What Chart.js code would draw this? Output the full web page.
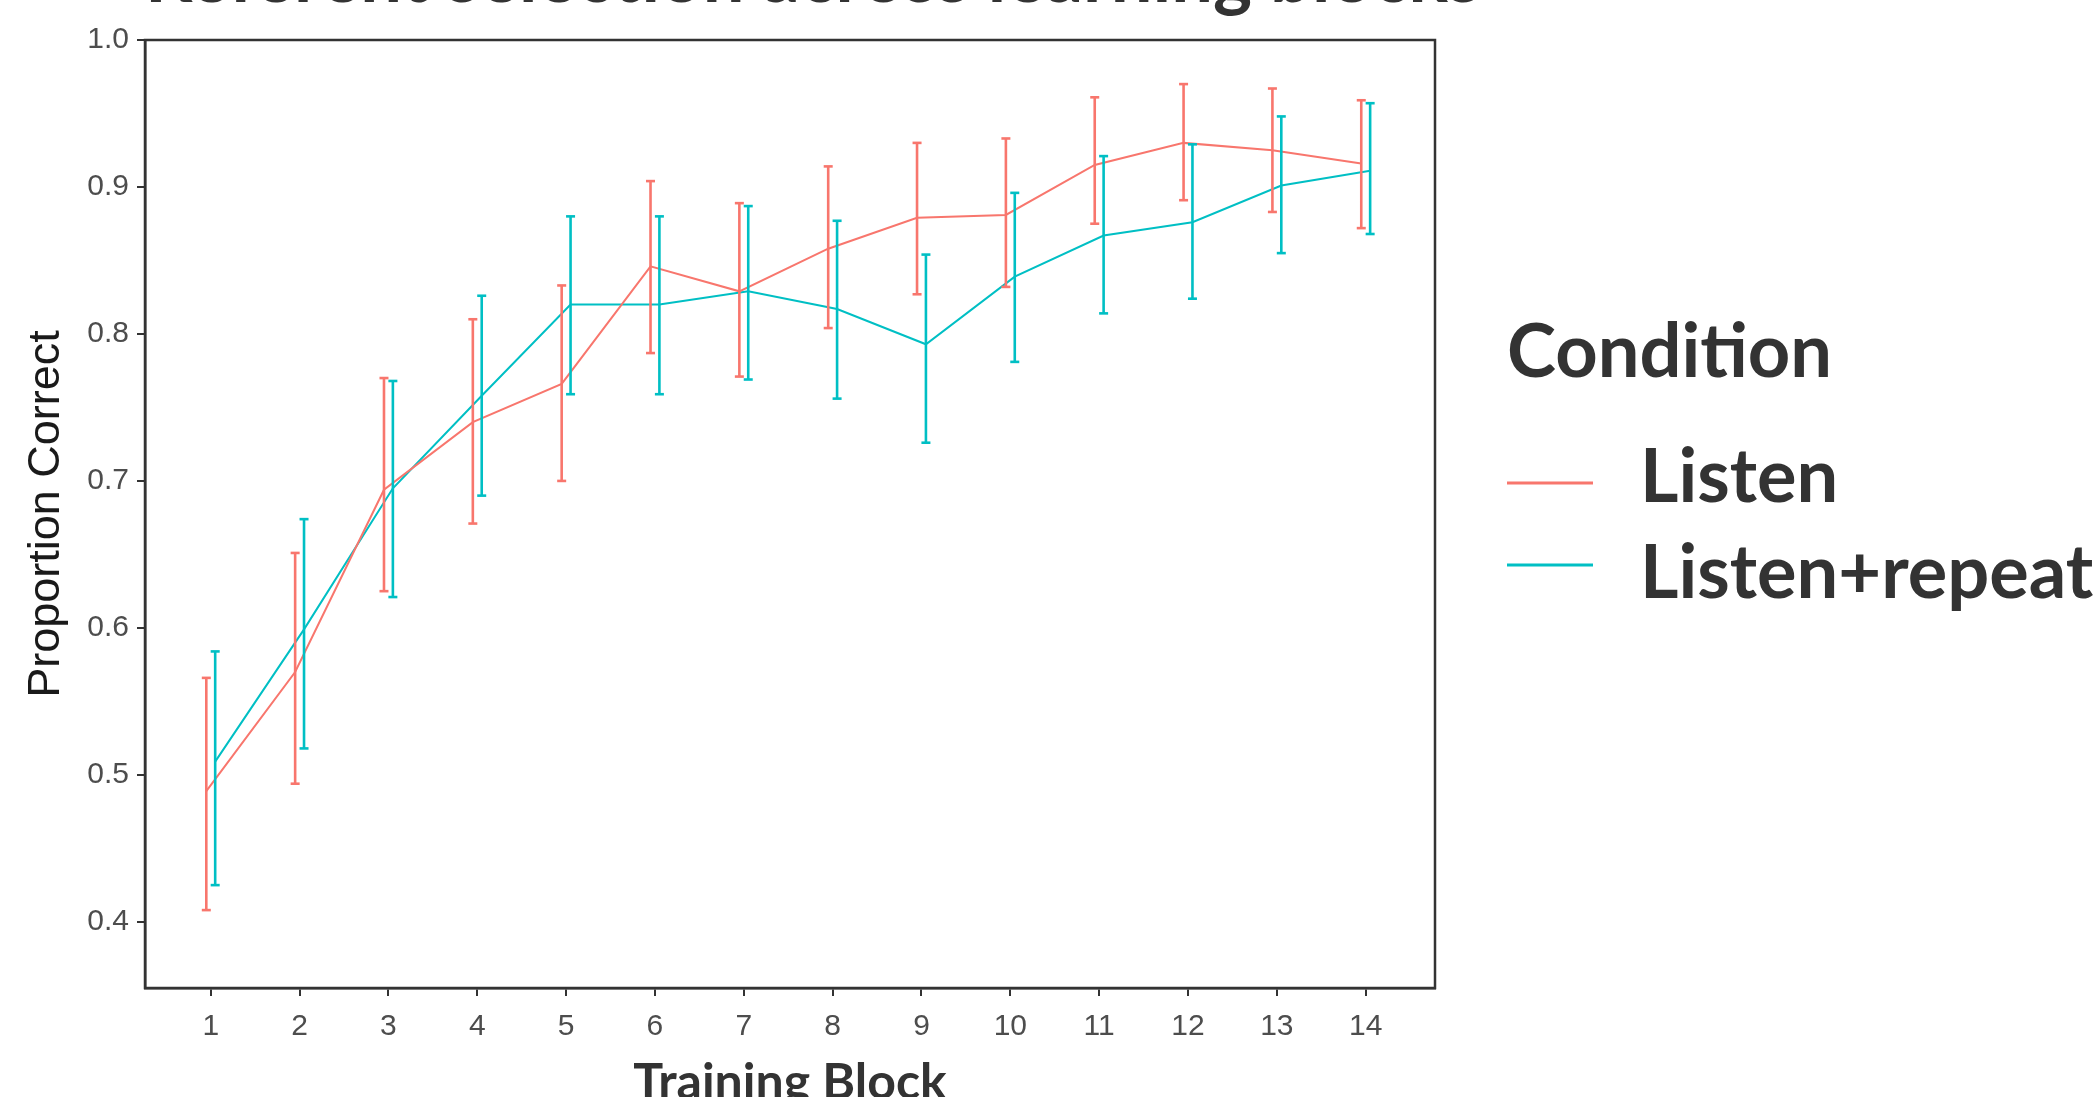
<!DOCTYPE html>
<html>
<head>
<meta charset="utf-8">
<script src="https://cdn.jsdelivr.net/npm/chart.js@4"></script>
<style>
  html, body { margin: 0; padding: 0; background: #fff; overflow: hidden; }
  #wrap { width: 2099px; height: 1097px; overflow: hidden; }
</style>
</head>
<body>
<div id="wrap"><canvas id="chart" width="2099" height="1127"></canvas></div>
<script>
'use strict';
// Data: mean proportion correct and error bar ends per training block
const blocks = [1, 2, 3, 4, 5, 6, 7, 8, 9, 10, 11, 12, 13, 14];
const conditions = ['Listen', 'Listen+repeat'];
const listenMean = [0.489, 0.570, 0.694, 0.740, 0.766, 0.846, 0.829, 0.858, 0.879, 0.881, 0.915, 0.930, 0.925, 0.916];
const listenLo   = [0.408, 0.494, 0.625, 0.671, 0.700, 0.787, 0.771, 0.804, 0.827, 0.832, 0.875, 0.891, 0.883, 0.872];
const listenHi   = [0.566, 0.651, 0.770, 0.810, 0.833, 0.904, 0.889, 0.914, 0.930, 0.933, 0.961, 0.970, 0.967, 0.959];
const repeatMean = [0.509, 0.599, 0.695, 0.758, 0.820, 0.820, 0.829, 0.817, 0.793, 0.839, 0.867, 0.876, 0.901, 0.911];
const repeatLo   = [0.425, 0.518, 0.621, 0.690, 0.759, 0.759, 0.769, 0.756, 0.726, 0.781, 0.814, 0.824, 0.855, 0.868];
const repeatHi   = [0.584, 0.674, 0.768, 0.826, 0.880, 0.880, 0.887, 0.877, 0.854, 0.896, 0.921, 0.929, 0.948, 0.957];
const yTicks = [0.4, 0.5, 0.6, 0.7, 0.8, 0.9, 1.0];
const titleText = 'Referent selection across learning blocks';

const red = '#F8766D';
const teal = '#00BFC4';
const ink = '#333333';
const dodge = 0.05;

// line through the means, shifted sideways a little like position_dodge
function meanPoints(means, dx) {
  return blocks.map((b, i) => ({x: b + dx, y: means[i]}));
}
// each error bar is a two point segment, a null point breaks the line between bars
function errPoints(lo, hi, dx) {
  let pts = [];
  blocks.forEach((b, i) => {
    pts.push({x: b + dx, y: lo[i]}, {x: b + dx, y: hi[i]}, {x: b + dx, y: null});
  });
  return pts;
}

function errDataset(label, lo, hi, dx, color) {
  return {
    label: label + ' error', data: errPoints(lo, hi, dx),
    borderColor: color, borderWidth: 2.6, spanGaps: false,
    pointStyle: 'line', pointRadius: 4.5, pointHoverRadius: 4.5,
    pointBorderColor: color, pointBorderWidth: 2.6
  };
}
function meanDataset(label, means, dx, color) {
  return {
    label: label, data: meanPoints(means, dx),
    borderColor: color, borderWidth: 2, tension: 0, pointRadius: 0
  };
}

// panel border all the way round, like theme_bw without grid
const frame = {
  id: 'frame',
  afterDraw(chart) {
    const {ctx, chartArea: a} = chart;
    ctx.save();
    ctx.strokeStyle = ink;
    ctx.lineWidth = 2.5;
    ctx.strokeRect(a.left, a.top, a.right - a.left, a.bottom - a.top);
    ctx.restore();
  }
};

// title runs off the top edge in the original, only its lowest pixels show
const clippedTitle = {
  id: 'clippedTitle',
  afterDraw(chart) {
    const ctx = chart.ctx;
    ctx.save();
    ctx.font = 'bold 74px Lato';
    ctx.fillStyle = ink;
    ctx.textAlign = 'left';
    ctx.textBaseline = 'alphabetic';
    ctx.fillText(titleText, 145, 2);
    ctx.restore();
  }
};

// big legend on the right, drawn by hand so it can run past the edge
const bigLegend = {
  id: 'bigLegend',
  afterDraw(chart) {
    const ctx = chart.ctx;
    const colors = [red, teal];
    const lineY = [483, 565];
    const textY = [502, 598];
    ctx.save();
    ctx.fillStyle = ink;
    ctx.font = 'bold 74px Lato';
    ctx.textAlign = 'left';
    ctx.textBaseline = 'alphabetic';
    ctx.fillText('Condition', 1507, 377);
    conditions.forEach((c, i) => {
      ctx.strokeStyle = colors[i];
      ctx.lineWidth = 3;
      ctx.beginPath();
      ctx.moveTo(1507, lineY[i]);
      ctx.lineTo(1593, lineY[i]);
      ctx.stroke();
      ctx.fillStyle = ink;
      ctx.fillText(c, 1640, textY[i]);
    });
    ctx.restore();
  }
};

const tickGrid = {display: true, drawOnChartArea: false, drawTicks: true, tickLength: 8, color: ink, lineWidth: 2};
const tickFont = {family: 'Liberation Sans', size: 30};

new Chart(document.getElementById('chart').getContext('2d'), {
  type: 'line',
  data: {
    datasets: [
      errDataset(conditions[0], listenLo, listenHi, -dodge, red),
      errDataset(conditions[1], repeatLo, repeatHi, dodge, teal),
      meanDataset(conditions[0], listenMean, -dodge, red),
      meanDataset(conditions[1], repeatMean, dodge, teal)
    ]
  },
  options: {
    responsive: false,
    animation: false,
    devicePixelRatio: 1,
    layout: {padding: {top: 40, right: 664, left: 0, bottom: 0}},
    plugins: {legend: {display: false}, tooltip: {enabled: false}},
    scales: {
      x: {
        type: 'linear', min: 0.26, max: 14.78,
        afterBuildTicks: s => { s.ticks = blocks.map(v => ({value: v})); },
        afterFit: s => { s.height = 139; },
        ticks: {font: tickFont, color: '#4D4D4D', padding: 13, maxRotation: 0, autoSkip: false},
        grid: tickGrid,
        border: {display: true, color: ink, width: 2.5},
        title: {display: true, text: 'Training Block', color: ink,
                font: {family: 'Lato', weight: 'bold', size: 50}, padding: {top: 0, bottom: 14}}
      },
      y: {
        type: 'linear', min: 0.355, max: 1.0,
        afterBuildTicks: s => { s.ticks = yTicks.map(v => ({value: v})); },
        afterFit: s => { s.width = 145; },
        ticks: {font: tickFont, color: '#4D4D4D', padding: 8, callback: v => v.toFixed(1)},
        grid: tickGrid,
        border: {display: true, color: ink, width: 2.5},
        title: {display: true, text: 'Proportion Correct', color: '#1A1A1A',
                font: {family: 'Liberation Sans', size: 45}, padding: {top: 20, bottom: 0}}
      }
    }
  },
  plugins: [frame, clippedTitle, bigLegend]
});
</script>
</body>
</html>
